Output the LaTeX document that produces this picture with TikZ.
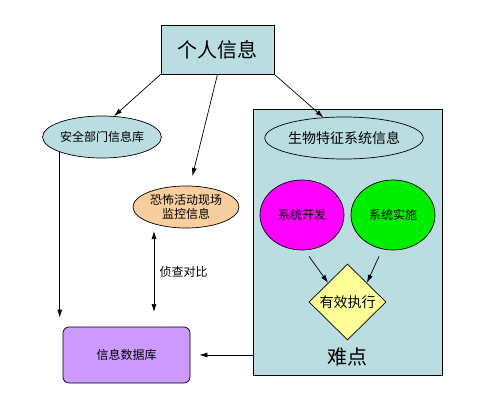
\documentclass[tikz,border=0pt]{standalone}
\usepackage{fontspec}
\newfontfamily\cjk{Noto Sans CJK SC}
\usetikzlibrary{shapes.geometric,arrows.meta}
\definecolor{paleblue}{HTML}{B9DDE1}
\definecolor{paleorange}{HTML}{F9CE9F}
\definecolor{palepurple}{HTML}{CC99FF}
\definecolor{paleyellow}{HTML}{FFFF99}
\definecolor{brightpink}{HTML}{FF00FF}
\definecolor{brightgreen}{HTML}{00EE00}
\newcommand{\bigtext}{\cjk\fontsize{20}{24}\selectfont}
\newcommand{\midtext}{\cjk\fontsize{14}{17}\selectfont}

\begin{document}
\begin{tikzpicture}[x=1pt, y=-1pt, line width=0.7pt,
    >={Latex[length=8pt,width=5pt]},
    every node/.style={font=\cjk\fontsize{12}{14}\selectfont},
    oval/.style={draw, ellipse, inner sep=0pt}]
  \useasboundingbox (0,0) rectangle (483,410);
  % big box holding the biometric part
  \node[draw, fill=paleblue, minimum width=189pt, minimum height=266pt, inner sep=0pt] (biobox) at (347.5,242) {};
  \node[font=\bigtext] (hard) at (347,357) {难点};
  % personal information on top
  \node[draw, fill=paleblue, minimum width=113pt, minimum height=49pt, font=\bigtext] (person) at (217.5,49.5) {个人信息};
  % the three sources
  \node[oval, fill=paleblue, minimum width=108pt, minimum height=42pt] (safety) at (102,137) {安全部门信息库};
  \node[oval, fill=paleorange, minimum width=106pt, minimum height=42pt, align=center] (terror) at (186,207) {恐怖活动现场\\监控信息};
  \node[oval, fill=paleblue, minimum width=126pt, minimum height=42pt, font=\midtext] (bioinfo) at (344,138) {生物特征系统信息};
  % development and deployment
  \node[oval, fill=brightpink, minimum width=84pt, minimum height=70pt] (develop) at (302,215) {系统开发};
  \node[oval, fill=brightgreen, minimum width=84pt, minimum height=70pt] (deploy) at (393,215) {系统实施};
  \node[draw, diamond, fill=paleyellow, minimum width=77pt, minimum height=76pt, inner sep=0pt, font=\midtext] (execute) at (347.5,302) {有效执行};
  % database
  \node[draw, fill=palepurple, rounded corners=6pt, minimum width=127pt, minimum height=56pt] (database) at (126.5,355) {信息数据库};
  % arrows
  \draw[->] (person.south west) -- (safety.60);
  \draw[->, shorten >=10pt] (person.south) -- ([xshift=4pt]terror.north);
  \draw[->] (person.south east) -- (bioinfo.135);
  \draw[->] ([xshift=7pt, yshift=-6pt]develop.south) -- (execute.north west);
  \draw[->] ([xshift=-14pt, yshift=-6pt]deploy.south) -- (execute.north east);
  \draw[->, shorten >=9pt] (safety.south west) -- (safety.south west |- database.north);
  \coordinate (cmptop) at (154,231);
  \coordinate (cmpbot) at (154,312);
  \draw[<->] (cmptop) -- node[right, xshift=2pt] {侦查对比} (cmpbot);
  \draw[->, shorten >=9pt] (biobox.west |- database.east) -- (database.east);
\end{tikzpicture}
\end{document}
